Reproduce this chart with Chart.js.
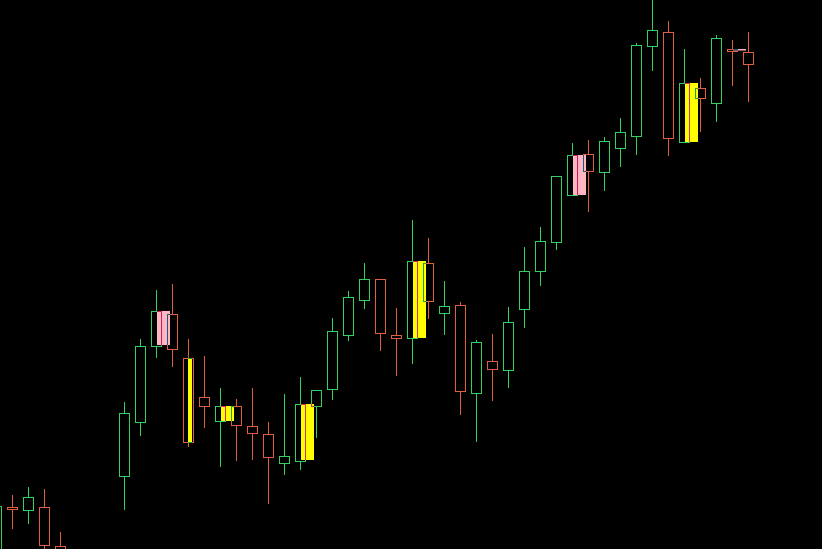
<!DOCTYPE html>
<html>
<head>
<meta charset="utf-8">
<script src="https://cdn.jsdelivr.net/npm/chart.js@4"></script>
<style>
  html, body { margin: 0; padding: 0; background: #000; overflow: hidden; }
  #chart { display: block; }
</style>
</head>
<body>
<canvas id="chart" width="822" height="549"></canvas>
<script>
// candle index (bar number), OHLC
const bars = [0, 1, 2, 3, 4, 5, 6, 7, 8, 9, 10, 11, 12, 13, 14, 15, 16, 17, 18, 19, 20, 21, 22, 23,
              24, 25, 26, 27, 28, 29, 30, 31, 32, 33, 34, 35, 36, 37, 38, 39, 40, 41, 42, 43, 44, 45, 46, 47];
const open  = [-16, 42, 38, 42, 3, -26, -51, -36, 72, 126, 202, 235, 191, 152, 127, 143, 123, 115, 85, 87, 142, 159, 213, 248,
               270, 214, 210, 286, 235, 244, 155, 188, 178, 239, 277, 306, 353, 395, 376, 400, 412, 502, 517, 406, 461, 445, 500, 497];
const high  = [45, 54, 62, 60, 17, -16, -26, -6, 147, 210, 259, 265, 210, 193, 161, 150, 161, 127, 155, 172, 159, 231, 258, 286,
               270, 241, 329, 311, 268, 247, 209, 215, 242, 302, 322, 373, 406, 409, 412, 431, 506, 552, 528, 500, 471, 514, 509, 517];
const low   = [-30, 20, 25, -11, -41, -61, -66, -46, 39, 113, 191, 182, 102, 121, 82, 88, 89, 45, 74, 79, 111, 149, 208, 240,
               198, 173, 185, 230, 214, 134, 107, 148, 161, 221, 263, 299, 353, 337, 358, 382, 394, 478, 393, 406, 417, 427, 463, 447];
const close = [43, 39, 52, 3, -31, -51, -36, -11, 136, 203, 238, 199, 106, 142, 143, 123, 115, 91, 93, 145, 159, 218, 252, 270,
               215, 210, 288, 247, 243, 157, 207, 179, 227, 278, 308, 373, 394, 377, 408, 417, 504, 519, 410, 466, 450, 511, 497, 484];

// pattern marks: position (in bars), bottom, top, colour
const markPos    = [10.4375, 14.4375, 19.4375, 26.4375, 36.4375, 43.4375, 46.4375];
const markLow    = [204, 128, 89, 211, 354, 407, 498.5];
const markHigh   = [238, 143, 145, 288, 394, 466, 500];
const markColors = ['#ffb6c1', '#ffff00', '#ffff00', '#ffff00', '#ffb6c1', '#ffff00', '#ffb6c1'];

const thinPos  = [12.09375];
const thinLow  = [106];
const thinHigh = [191];

const UP = '#34d160';
const DOWN = '#e0603e';

const candleColors = bars.map((b, i) => close[i] >= open[i] ? UP : DOWN);

const wicks = bars.map((b, i) => ({ x: b, y: [low[i], high[i]] }));
const bodies = bars.map((b, i) => ({ x: b, y: [Math.min(open[i], close[i]), Math.max(open[i], close[i])] }));
const marks = markPos.map((p, i) => ({ x: p, y: [markLow[i], markHigh[i]] }));
const thinMarks = thinPos.map((p, i) => ({ x: p, y: [thinLow[i], thinHigh[i]] }));

const blackBg = {
    id: 'blackBg',
    beforeDraw(chart) {
        const ctx = chart.ctx;
        ctx.save();
        ctx.fillStyle = '#000';
        ctx.fillRect(0, 0, chart.width, chart.height);
        ctx.restore();
    }
};

// marks are painted in "difference" mode over the candles
const blend = {
    id: 'blend',
    beforeDatasetDraw(chart, args) {
        if (chart.data.datasets[args.index].blend) {
            chart.ctx.save();
            chart.ctx.globalCompositeOperation = 'difference';
        }
    },
    afterDatasetDraw(chart, args) {
        if (chart.data.datasets[args.index].blend) {
            chart.ctx.restore();
        }
    }
};

new Chart(document.getElementById('chart'), {
    type: 'bar',
    data: {
        datasets: [{
            label: 'marks',
            data: marks,
            backgroundColor: markColors,
            borderWidth: 0,
            barThickness: 13,
            grouped: false,
            inflateAmount: 0,
            blend: true,
            order: 0
        }, {
            label: 'thin',
            data: thinMarks,
            backgroundColor: '#ffff00',
            borderWidth: 0,
            barThickness: 4,
            grouped: false,
            inflateAmount: 0,
            blend: true,
            order: 0
        }, {
            label: 'body',
            data: bodies,
            backgroundColor: '#000',
            borderColor: candleColors,
            borderWidth: 1,
            borderSkipped: false,
            barThickness: 11,
            grouped: false,
            inflateAmount: 0,
            order: 1
        }, {
            label: 'wick',
            data: wicks,
            backgroundColor: candleColors,
            borderWidth: 0,
            barThickness: 1,
            grouped: false,
            inflateAmount: 0,
            order: 2
        }]
    },
    options: {
        responsive: false,
        animation: false,
        devicePixelRatio: 1,
        layout: { padding: 0 },
        plugins: {
            legend: { display: false },
            tooltip: { enabled: false }
        },
        scales: {
            x: {
                type: 'linear',
                display: false,
                offset: false,
                min: 0.21875,
                max: 51.59375
            },
            y: {
                display: false,
                min: 0,
                max: 549
            }
        }
    },
    plugins: [blackBg, blend]
});
</script>
</body>
</html>
